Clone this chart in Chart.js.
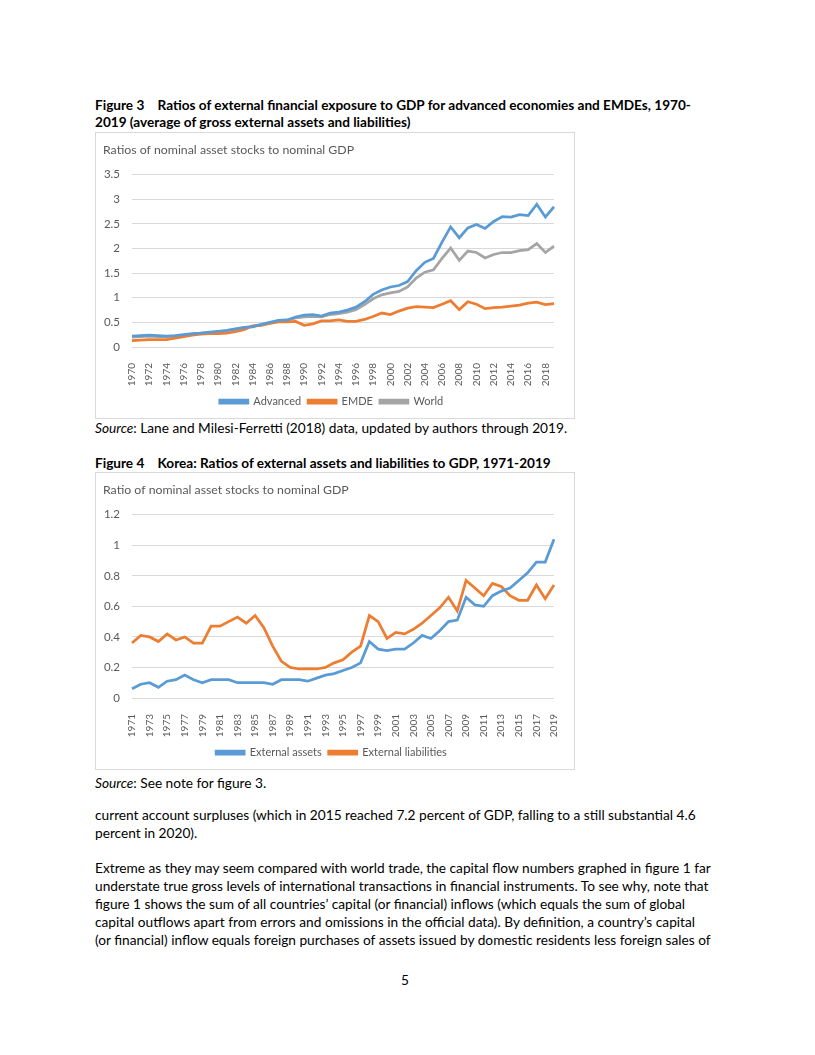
<!DOCTYPE html>
<html>
<head>
<meta charset="utf-8">
<script src="https://cdn.jsdelivr.net/npm/chart.js@4.4.1/dist/chart.umd.min.js"></script>
<style>
   body { margin: 0; background: #fff; }
   #page { position: relative; width: 815px; height: 1055px; font-family: Lato, sans-serif; color: #000; font-size: 13.7px; }
   .ln { position: absolute; left: 95px; white-space: nowrap; line-height: 18px; }
   .b { font-weight: bold; font-size: 13.6px; }
   .box { position: absolute; left: 95px; width: 480px; border: 1px solid #d9d9d9; box-sizing: border-box; }
</style>
</head>
<body>
<div id="page">
   <div class="ln b" style="top:96px">Figure 3&nbsp;&nbsp;&nbsp;&nbsp;Ratios of external financial exposure to GDP for advanced economies and EMDEs, 1970-</div>
   <div class="ln b" style="top:113px">2019 (average of gross external assets and liabilities)</div>
   <div class="box" style="top:132px;height:287px"><canvas id="chart-fig3"></canvas></div>
   <div class="ln" style="top:419px"><i>Source</i>: Lane and Milesi-Ferretti (2018) data, updated by authors through 2019.</div>

   <div class="ln b" style="top:454px">Figure 4&nbsp;&nbsp;&nbsp;&nbsp;Korea: Ratios of external assets and liabilities to GDP, 1971-2019</div>
   <div class="box" style="top:472px;height:298px"><canvas id="chart-fig4"></canvas></div>
   <div class="ln" style="top:774px"><i>Source</i>: See note for figure 3.</div>

   <div class="ln" style="top:806px">current account surpluses (which in 2015 reached 7.2 percent of GDP, falling to a still substantial 4.6</div>
   <div class="ln" style="top:824px">percent in 2020).</div>

   <div class="ln" style="top:859px">Extreme as they may seem compared with world trade, the capital flow numbers graphed in figure 1 far</div>
   <div class="ln" style="top:877px">understate true gross levels of international transactions in financial instruments. To see why, note that</div>
   <div class="ln" style="top:895px">figure 1 shows the sum of all countries’ capital (or financial) inflows (which equals the sum of global</div>
   <div class="ln" style="top:913px">capital outflows apart from errors and omissions in the official data). By definition, a country’s capital</div>
   <div class="ln" style="top:931px">(or financial) inflow equals foreign purchases of assets issued by domestic residents less foreign sales of</div>

   <div class="ln" style="top:971px;left:401px">5</div>
</div>

<script>
// Figura 3 - dados
var anosFig3 = [];
for (let a = 1970; a <= 2019; a++) anosFig3.push(String(a));

var advanced = [0.22, 0.23, 0.24, 0.23, 0.22, 0.23, 0.25, 0.27, 0.28, 0.30,
   0.32, 0.34, 0.37, 0.40, 0.41, 0.46, 0.50, 0.54, 0.55, 0.61,
   0.65, 0.66, 0.63, 0.69, 0.71, 0.75, 0.81, 0.92, 1.07, 1.16,
   1.22, 1.25, 1.33, 1.55, 1.72, 1.80, 2.13, 2.44, 2.22, 2.42,
   2.49, 2.41, 2.55, 2.65, 2.64, 2.69, 2.67, 2.90, 2.64, 2.85];

var emde = [0.13, 0.14, 0.15, 0.15, 0.15, 0.18, 0.21, 0.24, 0.26, 0.27,
   0.27, 0.28, 0.31, 0.35, 0.43, 0.44, 0.48, 0.51, 0.51, 0.52,
   0.44, 0.47, 0.53, 0.53, 0.55, 0.52, 0.52, 0.56, 0.62, 0.69,
   0.66, 0.73, 0.79, 0.82, 0.81, 0.80, 0.87, 0.94, 0.76, 0.92,
   0.87, 0.78, 0.80, 0.81, 0.83, 0.85, 0.89, 0.91, 0.86, 0.88];

var world = [0.20, 0.21, 0.22, 0.21, 0.21, 0.22, 0.24, 0.26, 0.28, 0.29,
   0.31, 0.33, 0.36, 0.39, 0.42, 0.45, 0.49, 0.53, 0.54, 0.59,
   0.61, 0.62, 0.61, 0.66, 0.68, 0.71, 0.76, 0.86, 0.98, 1.06,
   1.10, 1.13, 1.22, 1.40, 1.52, 1.57, 1.80, 2.01, 1.76, 1.95,
   1.92, 1.81, 1.88, 1.92, 1.92, 1.96, 1.98, 2.10, 1.92, 2.05];

// Figura 4 - Coreia
var anosFig4 = [];
for (let a = 1971; a <= 2019; a++) anosFig4.push(String(a));

var extAssets = [0.06, 0.09, 0.10, 0.07, 0.11, 0.12, 0.15, 0.12, 0.10,
   0.12, 0.12, 0.12, 0.10, 0.10, 0.10, 0.10, 0.09, 0.12, 0.12,
   0.12, 0.11, 0.13, 0.15, 0.16, 0.18, 0.20, 0.23, 0.37, 0.32,
   0.31, 0.32, 0.32, 0.36, 0.41, 0.39, 0.44, 0.50, 0.51, 0.66,
   0.61, 0.60, 0.67, 0.70, 0.72, 0.77, 0.82, 0.89, 0.89, 1.04];

var extLiab = [0.36, 0.41, 0.40, 0.37, 0.42, 0.38, 0.40, 0.36, 0.36,
   0.47, 0.47, 0.50, 0.53, 0.49, 0.54, 0.46, 0.34, 0.24, 0.20,
   0.19, 0.19, 0.19, 0.20, 0.23, 0.25, 0.30, 0.34, 0.54, 0.50,
   0.39, 0.43, 0.42, 0.45, 0.49, 0.54, 0.59, 0.66, 0.57, 0.77,
   0.72, 0.67, 0.75, 0.73, 0.67, 0.64, 0.64, 0.74, 0.65, 0.74];

var FONTE = 'Lato, "Open Sans", sans-serif';
var CINZA = "#595959";

function serie(label, cor, dados) {
   return {
      label: label,
      data: dados,
      borderColor: cor,
      backgroundColor: cor,
      borderWidth: 2.75,
      pointRadius: 0,
      tension: 0,
   };
}

function opcoes(titulo, maxY, passo) {
   return {
      responsive: true,
      maintainAspectRatio: false,
      animation: false,
      layout: { padding: { left: 7, right: 14, top: 6, bottom: 1 } },
      plugins: {
         title: {
            display: true,
            text: titulo,
            align: "start",
            color: CINZA,
            font: { family: FONTE, size: 12.3, weight: "normal" },
            padding: { top: 4, bottom: 17 },
         },
         legend: {
            position: "bottom",
            labels: {
               color: CINZA,
               font: { family: FONTE, size: 11 },
               boxWidth: 28,
               boxHeight: 3,
               padding: 7,
            },
         },
         tooltip: { enabled: false },
      },
      scales: {
         x: {
            grid: { display: false },
            border: { display: false },
            afterFit: function (scale) {
               scale.height = 42;
            },
            ticks: {
               color: CINZA,
               font: { family: FONTE, size: 10 },
               autoSkip: false,
               maxRotation: 90,
               minRotation: 90,
               padding: 8,
               callback: function (v, i) {
                  return i % 2 == 0 ? this.getLabelForValue(v) : "";
               },
            },
         },
         y: {
            min: 0,
            max: maxY,
            grid: { color: "#d9d9d9", drawTicks: false, lineWidth: 1 },
            border: { display: false },
            afterFit: function (scale) {
               scale.width = 29;
            },
            ticks: {
               stepSize: passo,
               color: CINZA,
               padding: 12,
               font: { family: FONTE, size: 11.5 },
               callback: function (v) {
                  return String(Math.round(v * 10) / 10);
               },
            },
         },
      },
   };
}

const ctxFig3 = document.getElementById("chart-fig3");
new Chart(ctxFig3, {
   type: "line",
   data: {
      labels: anosFig3,
      datasets: [
         serie("Advanced", "#5B9BD5", advanced),
         serie("EMDE", "#ED7D31", emde),
         serie("World", "#A5A5A5", world),
      ],
   },
   options: opcoes("Ratios of nominal asset stocks to nominal GDP", 3.5, 0.5),
});

const ctxFig4 = document.getElementById("chart-fig4");
new Chart(ctxFig4, {
   type: "line",
   data: {
      labels: anosFig4,
      datasets: [
         serie("External assets", "#5B9BD5", extAssets),
         serie("External liabilities", "#ED7D31", extLiab),
      ],
   },
   options: opcoes("Ratio of nominal asset stocks to nominal GDP", 1.2, 0.2),
});
</script>
</body>
</html>
